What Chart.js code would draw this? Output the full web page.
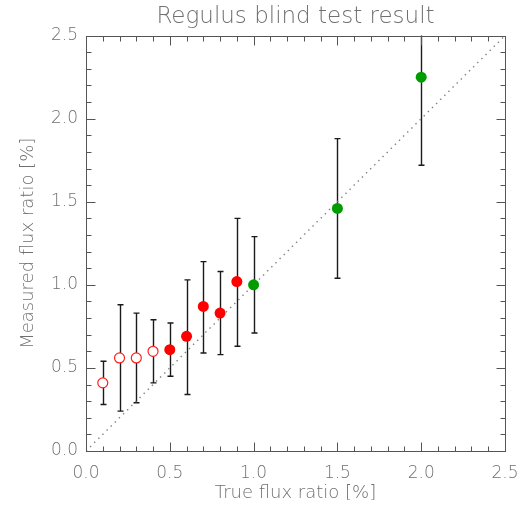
<!DOCTYPE html>
<html>
  <head>
    <title>Regulus blind test result</title>
    <style>
      body { margin: 0; background: white; }
      .wrap { width: 522px; height: 506px; }
    </style>
  </head>
  <body>
    <div class="wrap">
      <canvas id="regulus" width="522" height="506"></canvas>
    </div>

    <script src="https://cdn.jsdelivr.net/npm/chart.js"></script>
    <script>
      // values
      var trueFlux  = [0.1, 0.2, 0.3, 0.4, 0.5, 0.6, 0.7, 0.8, 0.9, 1.0, 1.5, 2.0];
      var measured  = [0.41, 0.56, 0.56, 0.60, 0.61, 0.69, 0.87, 0.83, 1.02, 1.00, 1.46, 2.25];
      var errLow    = [0.28, 0.24, 0.29, 0.41, 0.45, 0.34, 0.59, 0.58, 0.63, 0.71, 1.04, 1.72];
      var errHigh   = [0.54, 0.88, 0.83, 0.79, 0.77, 1.03, 1.14, 1.08, 1.40, 1.29, 1.88, 2.70];
      // 0 = open red, 1 = filled red, 2 = filled green
      var group     = [0, 0, 0, 0, 1, 1, 1, 1, 1, 2, 2, 2];
      var oneToOne  = [0, 2.5];
      var axisTicks = [0.0, 0.5, 1.0, 1.5, 2.0, 2.5];

      var textGray = '#707070';
      var axisGray = '#555555';

      function pointsOf(g) {
        var out = [];
        for (var i = 0; i < trueFlux.length; i++) {
          if (group[i] === g) out.push({x: trueFlux[i], y: measured[i]});
        }
        return out;
      }

      // error bars, drawn under the markers
      const errorBars = {
        id: 'errorBars',
        beforeDatasetsDraw(chart) {
          const ctx = chart.ctx;
          const xs = chart.scales.x, ys = chart.scales.y;
          const a = chart.chartArea;
          ctx.save();
          ctx.beginPath();
          ctx.rect(a.left, a.top, a.right - a.left, a.bottom - a.top);
          ctx.clip();
          ctx.strokeStyle = '#1a1a1a';
          ctx.lineWidth = 1.4;
          for (var i = 0; i < trueFlux.length; i++) {
            var px = Math.round(xs.getPixelForValue(trueFlux[i])) + 0.5;
            var lo = ys.getPixelForValue(errLow[i]);
            var hi = ys.getPixelForValue(errHigh[i]);
            ctx.beginPath();
            ctx.moveTo(px, lo); ctx.lineTo(px, hi);
            ctx.moveTo(px - 3, lo); ctx.lineTo(px + 3, lo);
            ctx.moveTo(px - 3, hi); ctx.lineTo(px + 3, hi);
            ctx.stroke();
          }
          ctx.restore();
        }
      };

      // box and inward ticks on all four sides
      const frame = {
        id: 'frame',
        afterDraw(chart) {
          const ctx = chart.ctx;
          const xs = chart.scales.x, ys = chart.scales.y;
          const a = chart.chartArea;
          const L = Math.round(a.left) + 0.5, R = Math.round(a.right) + 0.5;
          const T = Math.round(a.top) + 0.5, B = Math.round(a.bottom) + 0.5;
          ctx.save();
          ctx.strokeStyle = axisGray;
          ctx.lineWidth = 1;
          ctx.strokeRect(L, T, R - L, B - T);
          ctx.beginPath();
          for (var k = 1; k < 25; k++) {
            var v = k / 10;
            var len = (k % 5 === 0) ? 9 : 5;
            var px = Math.round(xs.getPixelForValue(v)) + 0.5;
            var py = Math.round(ys.getPixelForValue(v)) + 0.5;
            ctx.moveTo(px, B); ctx.lineTo(px, B - len);
            ctx.moveTo(px, T); ctx.lineTo(px, T + len);
            ctx.moveTo(L, py); ctx.lineTo(L + len, py);
            ctx.moveTo(R, py); ctx.lineTo(R - len, py);
          }
          ctx.stroke();
          ctx.restore();
        }
      };

      const tickFont = { family: 'DejaVu Sans', size: 17, weight: 200 };
      const titleFont = { family: 'DejaVu Sans', size: 18, weight: 200 };

      new Chart(document.getElementById('regulus'), {
        type: 'scatter',
        data: {
          datasets: [
            {
              label: 'open',
              data: pointsOf(0),
              pointRadius: 5,
              pointBorderWidth: 1.2,
              pointBackgroundColor: 'white',
              pointBorderColor: '#ff2020'
            },
            {
              label: 'filled red',
              data: pointsOf(1),
              pointRadius: 5.5,
              pointBorderWidth: 0,
              pointBackgroundColor: '#ff0000',
              pointBorderColor: '#ff0000'
            },
            {
              label: 'filled green',
              data: pointsOf(2),
              pointRadius: 5.5,
              pointBorderWidth: 0,
              pointBackgroundColor: '#009c00',
              pointBorderColor: '#009c00'
            },
            {
              label: 'one to one',
              data: oneToOne.map(v => ({x: v, y: v})),
              showLine: true,
              pointRadius: 0,
              borderColor: '#808080',
              borderWidth: 1.4,
              borderDash: [1.4, 4.4]
            }
          ]
        },
        options: {
          responsive: false,
          animation: false,
          layout: { padding: { left: 0, right: 17, top: 0, bottom: 0 } },
          plugins: {
            legend: { display: false },
            tooltip: { enabled: false },
            title: {
              display: true,
              text: 'Regulus blind test result',
              fullSize: false,
              color: textGray,
              font: { family: 'DejaVu Sans', size: 23, weight: 200 },
              padding: { top: 3, bottom: 5 }
            }
          },
          scales: {
            x: {
              type: 'linear',
              min: 0,
              max: 2.5,
              afterBuildTicks: s => { s.ticks = axisTicks.map(v => ({value: v})); },
              afterFit: s => { s.height = 55; s.paddingLeft = 0; s.paddingRight = 0; },
              ticks: {
                color: textGray,
                font: tickFont,
                padding: 12,
                maxRotation: 0,
                callback: v => v.toFixed(1)
              },
              grid: { display: false, drawTicks: false },
              border: { display: false },
              title: {
                display: true,
                text: 'True flux ratio [%]',
                color: textGray,
                font: titleFont,
                padding: { top: 0, bottom: 2 }
              }
            },
            y: {
              type: 'linear',
              min: 0,
              max: 2.5,
              afterBuildTicks: s => { s.ticks = axisTicks.map(v => ({value: v})); },
              afterFit: s => { s.width = 86; s.paddingTop = 0; s.paddingBottom = 0; },
              ticks: {
                color: textGray,
                font: tickFont,
                padding: 8,
                callback: v => v.toFixed(1)
              },
              grid: { display: false, drawTicks: false },
              border: { display: false },
              title: {
                display: true,
                text: 'Measured flux ratio [%]',
                color: textGray,
                font: titleFont,
                padding: { top: 18, bottom: 0 }
              }
            }
          }
        },
        plugins: [errorBars, frame]
      });
    </script>
  </body>
</html>
